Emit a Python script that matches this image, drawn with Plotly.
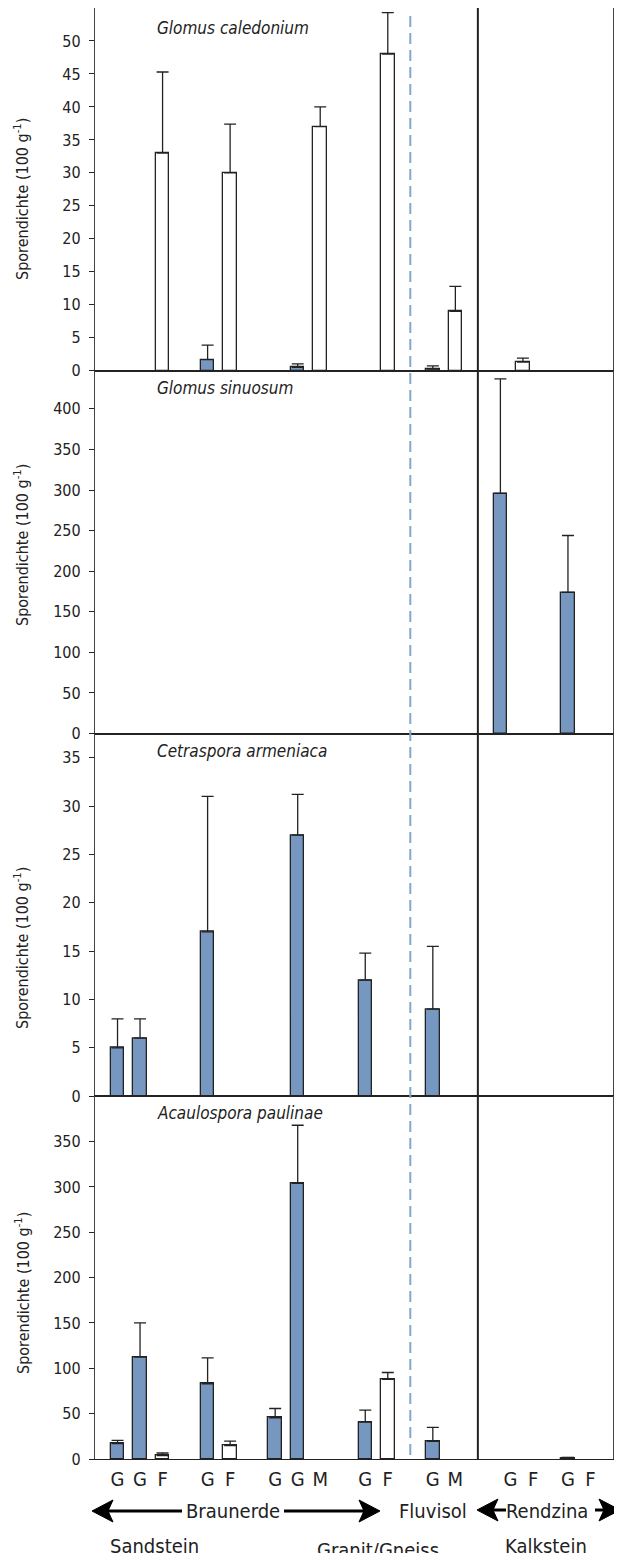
import plotly.graph_objects as go
from plotly.subplots import make_subplots

# ---------------- data ----------------
slots = [0, 1, 2, 4, 5, 7, 8, 9, 11, 12, 14, 15, 17, 18, 20, 21]
site_labels = ["G", "G", "F", "G", "F", "G", "G", "M", "G", "F", "G", "M", "G", "F", "G", "F"]
label_pos = [0, 1, 2, 4, 5, 7, 8, 9, 11, 12, 14, 15, 17.45, 18.45, 20, 21]

species = ["Glomus caledonium", "Glomus sinuosum", "Cetraspora armeniaca", "Acaulospora paulinae"]

N = None
caledonium_mean = [N, N, 33, 1.7, 30, N, 0.5, 37, N, 48, 0.25, 9, N, 1.3, N, N]
caledonium_err = [0, 0, 12.3, 2.2, 7.4, 0, 0.55, 3, 0, 6.3, 0.5, 3.8, 0, 0.6, 0, 0]

sinuosum_mean = [N, N, N, N, N, N, N, N, N, N, N, N, 296, N, 174, N]
sinuosum_err = [0, 0, 0, 0, 0, 0, 0, 0, 0, 0, 0, 0, 141, 0, 70, 0]

armeniaca_mean = [5, 6, N, 17, N, N, 27, N, 12, N, 9, N, N, N, N, N]
armeniaca_err = [3, 2, 0, 14, 0, 0, 4.2, 0, 2.8, 0, 6.5, 0, 0, 0, 0, 0]

paulinae_mean = [17, 112.5, 3.7, 83, 14.7, 45.5, 304, N, 40.7, 87.7, 19.5, N, N, N, 1.2, N]
paulinae_err = [3.5, 37.5, 2.9, 28.5, 5, 10.2, 64, 0, 13.2, 7.7, 15.4, 0, 0, 0, 0.6, 0]

means = [caledonium_mean, sinuosum_mean, armeniaca_mean, paulinae_mean]
errs = [caledonium_err, sinuosum_err, armeniaca_err, paulinae_err]

y_ranges = [[0, 55], [0, 447], [0, 37.5], [0, 400]]
y_ticks = [list(range(0, 51, 5)), list(range(0, 401, 50)), list(range(0, 36, 5)), list(range(0, 351, 50))]

soil_types = ["Braunerde", "Fluvisol", "Rendzina"]
bedrocks = ["Sandstein", "Granit/Gneiss", "Kalkstein"]

# ---------------- style ----------------
OFF = 8  # page body margin
W, H = 614, 1545
ML, MR, MT, MB = 87, 9, 0, 94
PW, PH = W - ML - MR, H - MT - MB
FONT = "Liberation Sans Narrow, DejaVu Sans Condensed, Arial Narrow, sans-serif"
BLUE = "#7597c0"
INK = "#222222"


def px_x(x):  # screen pixel -> paper
    return (x - OFF - ML) / PW


def px_y(y):
    return (H - MB - (y - OFF)) / PH


fig = make_subplots(rows=4, cols=1, shared_xaxes=True, vertical_spacing=0)

for r in range(4):
    m, e = means[r], errs[r]
    for kind, fill in (("G", BLUE), ("FM", "white")):
        xs, ys, es = [], [], []
        for i, s in enumerate(slots):
            is_g = site_labels[i] == "G"
            if (kind == "G") == is_g and m[i] is not None:
                xs.append(s)
                ys.append(m[i])
                es.append(e[i])
        if not xs:
            continue
        fig.add_trace(go.Bar(
            x=xs, y=ys, width=0.6,
            marker=dict(color=fill, line=dict(color=INK, width=1.3)),
            error_y=dict(type="data", symmetric=False, array=es,
                         arrayminus=[0] * len(es), color=INK, thickness=1.3, width=6),
            showlegend=False, hoverinfo="skip"),
            row=r + 1, col=1)
    fig.update_yaxes(range=y_ranges[r], tickvals=y_ticks[r], row=r + 1, col=1)

fig.update_xaxes(range=[-1, 22], showgrid=False, zeroline=False, showline=True,
                 linecolor=INK, linewidth=1.3, mirror=True, ticks="")
fig.update_xaxes(tickvals=label_pos, ticktext=site_labels, tickfont=dict(size=20, color=INK),
                 ticklabelstandoff=2, row=4, col=1)
fig.update_yaxes(showgrid=False, zeroline=False, showline=True, linecolor="#444444",
                 linewidth=1.3, mirror=True, ticks="outside", ticklen=5, tickcolor=INK,
                 tickwidth=1, tickfont=dict(size=16, color=INK), ticklabelstandoff=5)

# panel titles and y-axis titles
title_y = [28.5, 387.5, 751.5, 1113]
ytitle_y = [199, 545, 948, 1293]
for r in range(4):
    fig.add_annotation(xref="paper", yref="paper", x=px_x(155), y=px_y(title_y[r]),
                       text="<i>" + species[r] + "</i>", showarrow=False,
                       xanchor="left", yanchor="middle",
                       font=dict(family=FONT, size=17, color=INK))
    fig.add_annotation(xref="paper", yref="paper", x=px_x(22), y=px_y(ytitle_y[r]),
                       text="Sporendichte (100 g<sup>-1</sup>)", showarrow=False,
                       textangle=-90, xanchor="center", yanchor="middle",
                       font=dict(family=FONT, size=16, color=INK))

# separators: thick black (Rendzina) and dashed blue (Fluvisol)
fig.add_shape(type="line", xref="x", yref="paper", x0=16, x1=16, y0=0, y1=1,
              line=dict(color=INK, width=2))
fig.add_shape(type="line", xref="x", yref="paper", x0=13, x1=13,
              y0=px_y(1455), y1=px_y(13),
              line=dict(color="#86a5d0", width=2, dash="11px,6px"))

# bottom descriptors
row1_y, row2_y = 1511, 1546


def label(text, x, y):
    fig.add_annotation(xref="paper", yref="paper", x=px_x(x), y=px_y(y), text=text,
                       showarrow=False, xanchor="center", yanchor="middle",
                       font=dict(family=FONT, size=20, color=INK))


label(soil_types[0], 232.5, row1_y)
label(soil_types[1], 433, row1_y)
label(soil_types[2], 547, row1_y)
label(bedrocks[0], 154.5, row2_y)
label(bedrocks[1], 378, row2_y + 4)
label(bedrocks[2], 546, row2_y)


def arrow(tip, tail, y):
    d = 1 if tail > tip else -1
    base = tip + d * 21
    notch = tip + d * 16
    fig.add_shape(type="line", xref="paper", yref="paper",
                  x0=px_x(notch), x1=px_x(tail), y0=px_y(y), y1=px_y(y),
                  line=dict(color="black", width=3))
    pts = [(tip, y), (base, y - 11), (notch, y), (base, y + 11)]
    path = "M " + " L ".join(f"{px_x(a):.5f},{px_y(b):.5f}" for a, b in pts) + " Z"
    fig.add_shape(type="path", xref="paper", yref="paper", path=path,
                  fillcolor="black", line=dict(color="black", width=1))


arrow(92, 182, row1_y)
arrow(380, 284, row1_y)
arrow(477, 506, row1_y - 1)
arrow(620, 595, row1_y - 1)

fig.update_layout(width=W, height=H, margin=dict(l=ML, r=MR, t=MT, b=MB),
                  plot_bgcolor="white", paper_bgcolor="white", barmode="overlay",
                  font=dict(family=FONT, color=INK), bargap=0)

fig.write_html("out.html")
